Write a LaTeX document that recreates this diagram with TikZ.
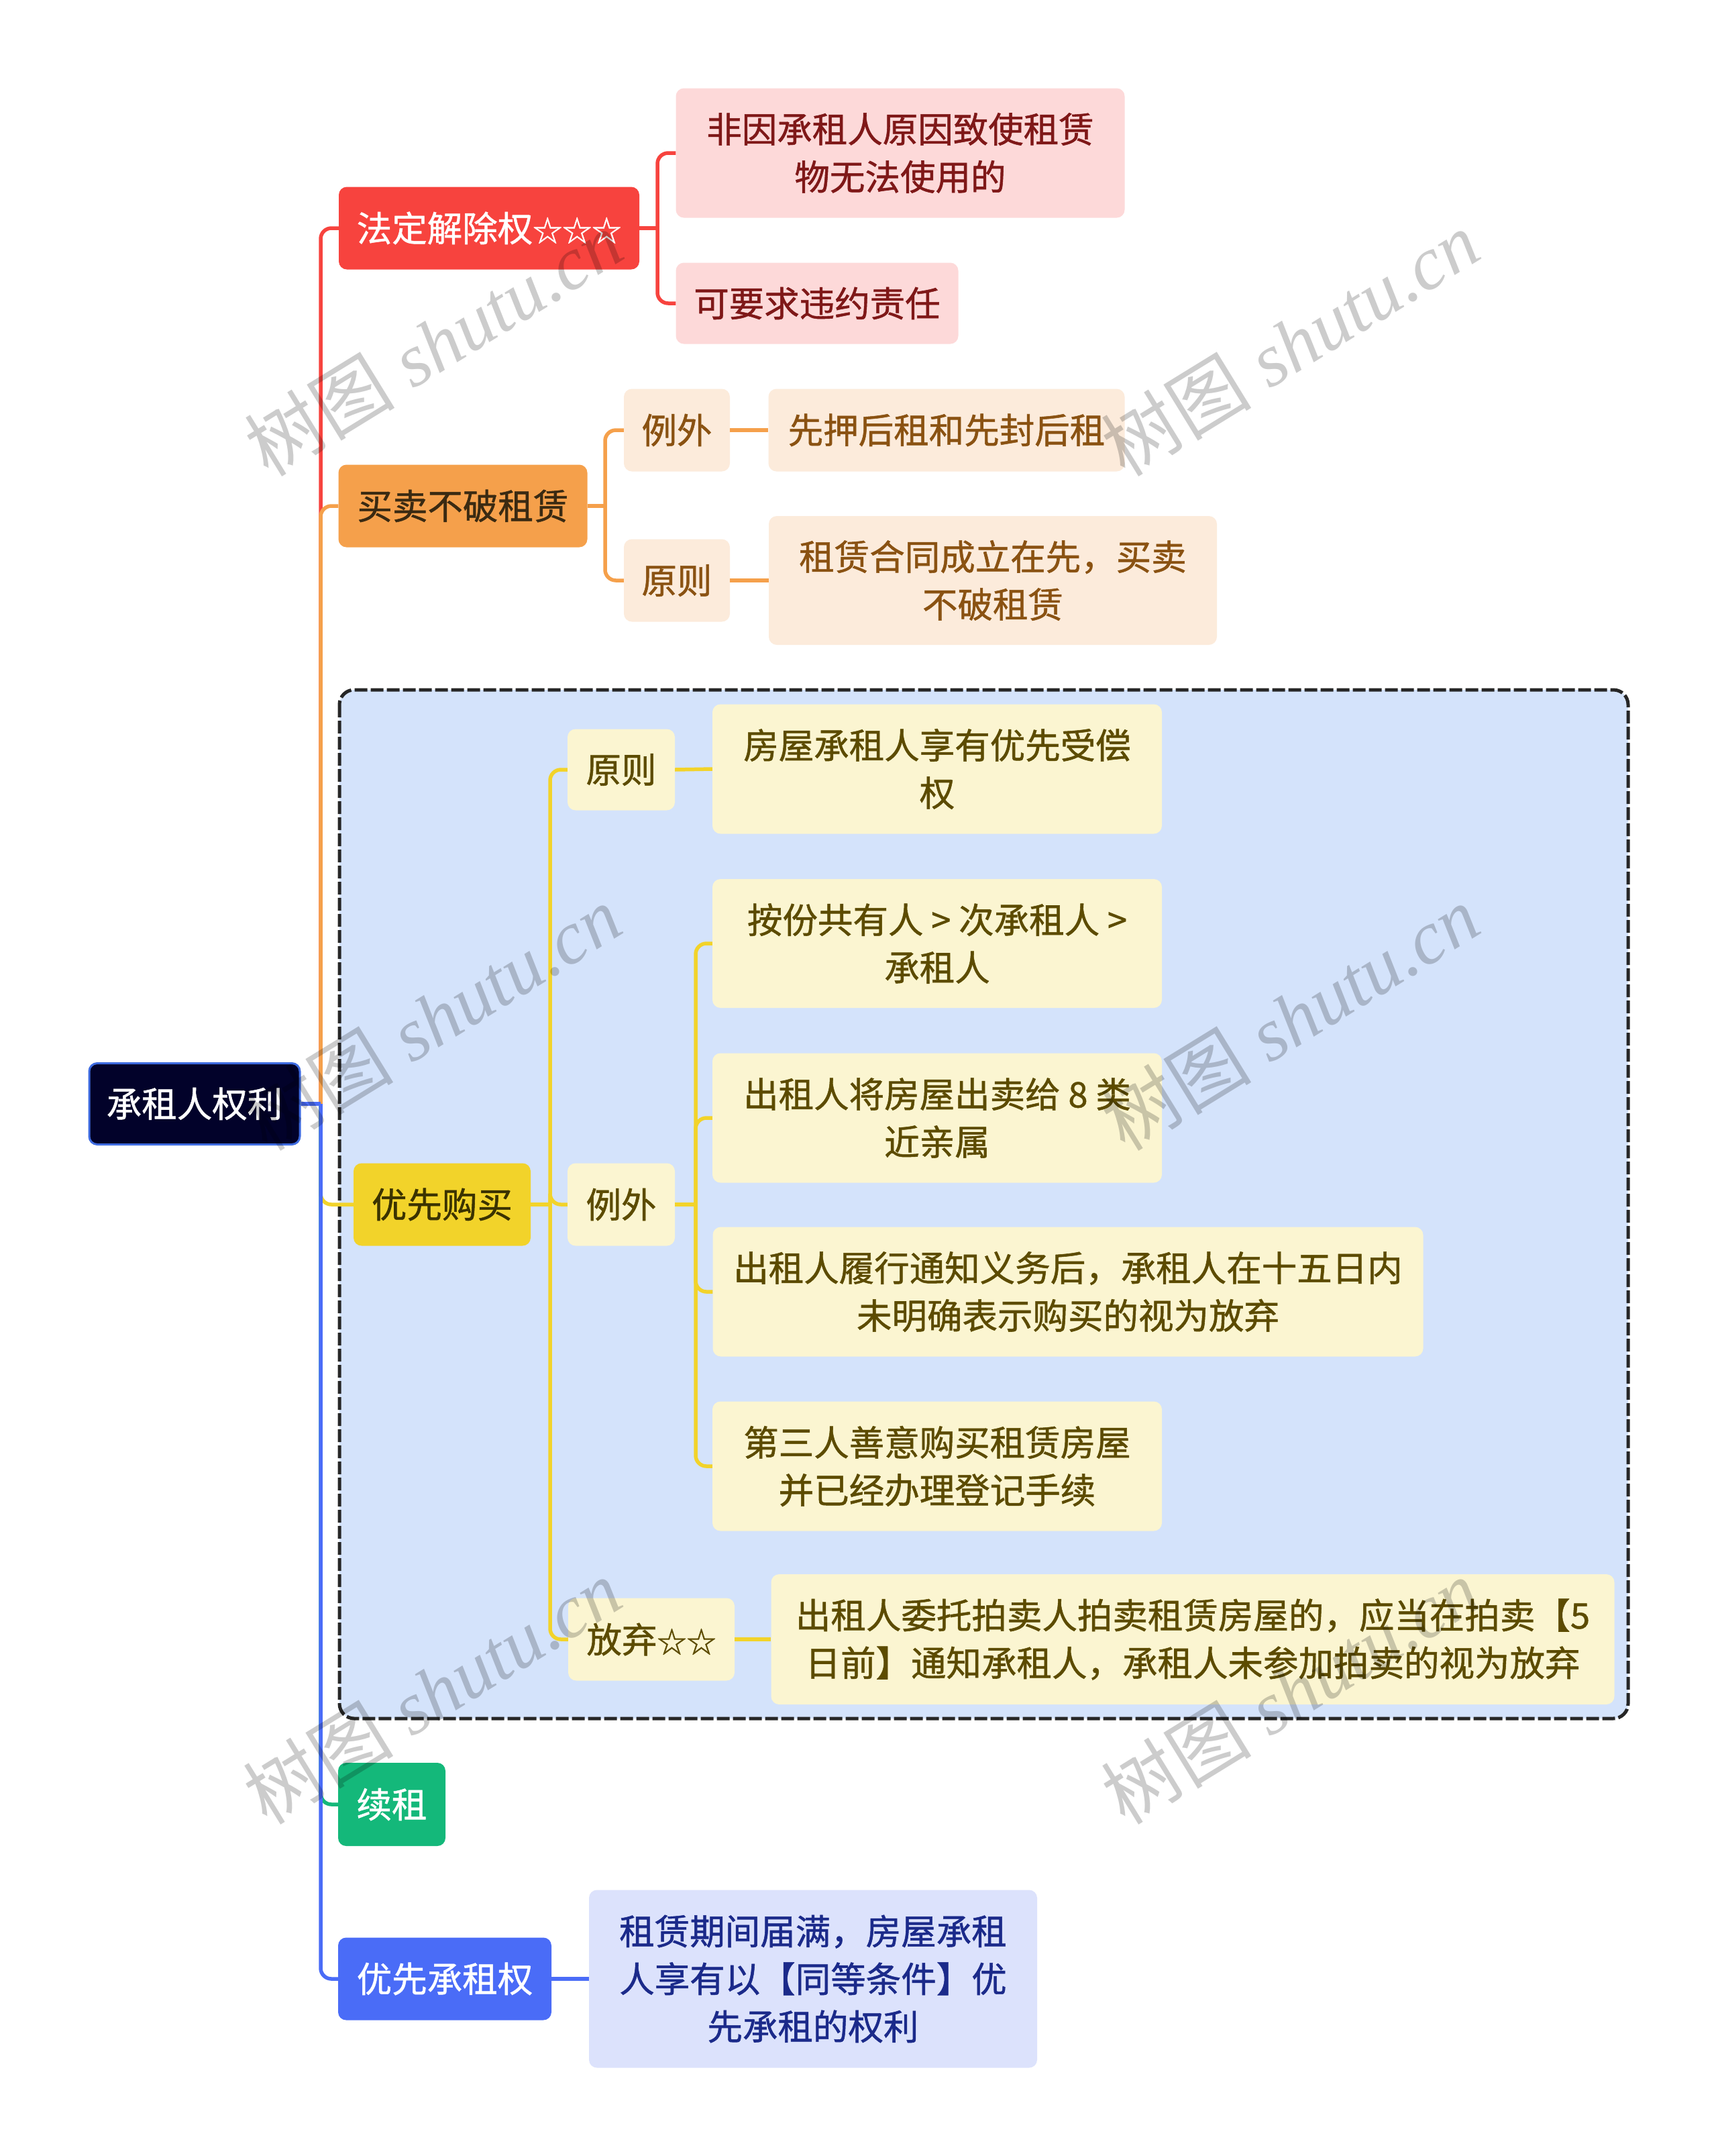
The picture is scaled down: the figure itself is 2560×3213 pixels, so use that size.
\documentclass[tikz,border=0pt]{standalone}
\usepackage{fontspec}
\setmainfont{Noto Sans CJK SC}[FakeBold=1]
\newfontfamily\wmlatin{Liberation Serif}
\newfontfamily\wmcjk{Noto Sans CJK SC}
\newcommand\starsym[1]{{\fontsize{44}{71}\selectfont #1}}
\definecolor{cred}{HTML}{F7433E}
\definecolor{cpink}{HTML}{FDD9D9}
\definecolor{cpinktxt}{HTML}{7F1818}
\definecolor{corange}{HTML}{F5A04B}
\definecolor{corangetxt}{HTML}{3A2A12}
\definecolor{cpeach}{HTML}{FCEBDB}
\definecolor{cpeachtxt}{HTML}{8A5212}
\definecolor{cyellow}{HTML}{F2D32A}
\definecolor{cyellowtxt}{HTML}{3B3300}
\definecolor{clyellow}{HTML}{FBF5D1}
\definecolor{clyellowtxt}{HTML}{5C4B00}
\definecolor{cboxbg}{HTML}{D4E3FB}
\definecolor{cgreen}{HTML}{14B87A}
\definecolor{cblue}{HTML}{4A6CF7}
\definecolor{clav}{HTML}{DCE2FC}
\definecolor{clavtxt}{HTML}{1B2A8A}
\definecolor{croot}{HTML}{02022A}
\definecolor{crootborder}{HTML}{3E6BE0}
\begin{document}
\begin{tikzpicture}[x=1pt,y=-1pt,
  base/.style={rounded corners=12, inner sep=0, align=center, font=\fontsize{52.5}{71}\selectfont},
  rootbox/.style={base, fill=croot, draw=crootborder, line width=3, text=white},
  redmain/.style={base, fill=cred, text=white},
  redleaf/.style={base, fill=cpink, text=cpinktxt},
  orgmain/.style={base, fill=corange, text=corangetxt},
  orgleaf/.style={base, fill=cpeach, text=cpeachtxt},
  ylwmain/.style={base, fill=cyellow, text=cyellowtxt},
  ylwleaf/.style={base, fill=clyellow, text=clyellowtxt},
  grnmain/.style={base, fill=cgreen, text=white},
  blumain/.style={base, fill=cblue, text=white},
  bluleaf/.style={base, fill=clav, text=clavtxt},
  conn/.style={line width=5.5},
  elbow/.style={conn, rounded corners=16},
  wm/.style={text=black, text opacity=0.2, inner sep=0, rotate=31.6, font=\fontsize{112}{112}\selectfont},
]
\useasboundingbox (0,0) rectangle (2560,3213);
\fill[white] (0,0) rectangle (2560,3213);

% dashed group box
\draw[fill=cboxbg, draw=black!85, line width=5, dash pattern=on 19pt off 5pt, rounded corners=22] (506,1028) rectangle (2427,2561);

% nodes
\node[rootbox, minimum width=314, minimum height=121] (root) at (290,1645) {承租人权利};

\node[redmain, minimum width=448, minimum height=123] (n1) at (729,340) {法定解除权\starsym{☆☆☆}};
\node[redleaf, minimum width=669, minimum height=193] (n11) at (1342,228) {非因承租人原因致使租赁\\物无法使用的};
\node[redleaf, minimum width=421, minimum height=121] (n12) at (1218,452) {可要求违约责任};

\node[orgmain, minimum width=371, minimum height=123] (n2) at (690,754) {买卖不破租赁};
\node[orgleaf, minimum width=158, minimum height=123] (n21) at (1009,641) {例外};
\node[orgleaf, minimum width=531, minimum height=123] (n211) at (1411,641) {先押后租和先封后租};
\node[orgleaf, minimum width=158, minimum height=123] (n22) at (1009,865) {原则};
\node[orgleaf, minimum width=668, minimum height=192] (n221) at (1480,865) {租赁合同成立在先，买卖\\不破租赁};

\node[ylwmain, minimum width=264, minimum height=123] (n3) at (659,1795) {优先购买};
\node[ylwleaf, minimum width=160, minimum height=121] (n31) at (926,1147) {原则};
\node[ylwleaf, minimum width=670, minimum height=193] (n311) at (1397,1146) {房屋承租人享有优先受偿\\权};
\node[ylwleaf, minimum width=160, minimum height=123] (n32) at (926,1795) {例外};
\node[ylwleaf, minimum width=670, minimum height=192] (n321) at (1397,1406) {按份共有人 > 次承租人 >\\承租人};
\node[ylwleaf, minimum width=670, minimum height=193] (n322) at (1397,1666) {出租人将房屋出卖给 8 类\\近亲属};
\node[ylwleaf, minimum width=1059, minimum height=193] (n323) at (1592,1925) {出租人履行通知义务后，承租人在十五日内\\未明确表示购买的视为放弃};
\node[ylwleaf, minimum width=670, minimum height=193] (n324) at (1397,2185) {第三人善意购买租赁房屋\\并已经办理登记手续};
\node[ylwleaf, minimum width=248, minimum height=123] (n33) at (971,2443) {放弃\starsym{☆☆}};
\node[ylwleaf, minimum width=1257, minimum height=194] (n331) at (1778,2443) {出租人委托拍卖人拍卖租赁房屋的，应当在拍卖【5\\日前】通知承租人，承租人未参加拍卖的视为放弃};

\node[grnmain, minimum width=160, minimum height=124] (n4) at (584,2689) {续租};
\node[blumain, minimum width=318, minimum height=123] (n5) at (663,2949) {优先承租权};
\node[bluleaf, minimum width=668, minimum height=265] (n51) at (1212,2949) {租赁期间届满，房屋承租\\人享有以【同等条件】优\\先承租的权利};

% junction coordinates
\coordinate (t0) at (478,1645);
\coordinate (r1) at (980,340);
\coordinate (r2) at (902,754);
\coordinate (r3) at (820,1795);
\coordinate (r32) at (1037,1795);

% main branches
\draw[elbow, cred] (t0) |- (n1.west);
\draw[elbow, corange] (t0) |- (n2.west);
\draw[elbow, cyellow] (t0) |- (n3.west);
\draw[elbow, cgreen] (t0) |- (n4.west);
\draw[elbow, cblue] (t0) |- (n5.west);
\draw[conn, cblue] (root.east) -- (t0);

% red sub-branches
\draw[conn, cred] (n1.east) -- (r1);
\draw[elbow, cred] (r1) |- (n11.west);
\draw[elbow, cred] (r1) |- (n12.west);

% orange sub-branches
\draw[conn, corange] (n2.east) -- (r2);
\draw[elbow, corange] (r2) |- (n21.west);
\draw[elbow, corange] (r2) |- (n22.west);
\draw[conn, corange] (n21.east) -- (n211.west);
\draw[conn, corange] (n22.east) -- (n221.west);

% yellow sub-branches
\draw[conn, cyellow] (n3.east) -- (r3);
\draw[elbow, cyellow] (r3) |- (n31.west);
\draw[elbow, cyellow] (r3) |- (n32.west);
\draw[elbow, cyellow] (r3) |- (n33.west);
\draw[conn, cyellow] (n31.east) -- (n311.west);
\draw[conn, cyellow] (n33.east) -- (n331.west);
\draw[conn, cyellow] (n32.east) -- (r32);
\draw[elbow, cyellow] (r32) |- (n321.west);
\draw[elbow, cyellow] (r32) |- (n322.west);
\draw[elbow, cyellow] (r32) |- (n323.west);
\draw[elbow, cyellow] (r32) |- (n324.west);

% blue sub-branch
\draw[conn, cblue] (n5.east) -- (n51.west);

% watermarks
\node[wm] (w1) at (646,512) {\wmcjk 树图\hspace{0.25em}\wmlatin\itshape shutu.cn};
\node[wm] (w2) at (1923,512) {\wmcjk 树图\hspace{0.25em}\wmlatin\itshape shutu.cn};
\node[wm] (w3) at (644,1517) {\wmcjk 树图\hspace{0.25em}\wmlatin\itshape shutu.cn};
\node[wm] (w4) at (1923,1517) {\wmcjk 树图\hspace{0.25em}\wmlatin\itshape shutu.cn};
\node[wm] (w5) at (644,2521) {\wmcjk 树图\hspace{0.25em}\wmlatin\itshape shutu.cn};
\node[wm] (w6) at (1923,2521) {\wmcjk 树图\hspace{0.25em}\wmlatin\itshape shutu.cn};
\end{tikzpicture}
\end{document}
